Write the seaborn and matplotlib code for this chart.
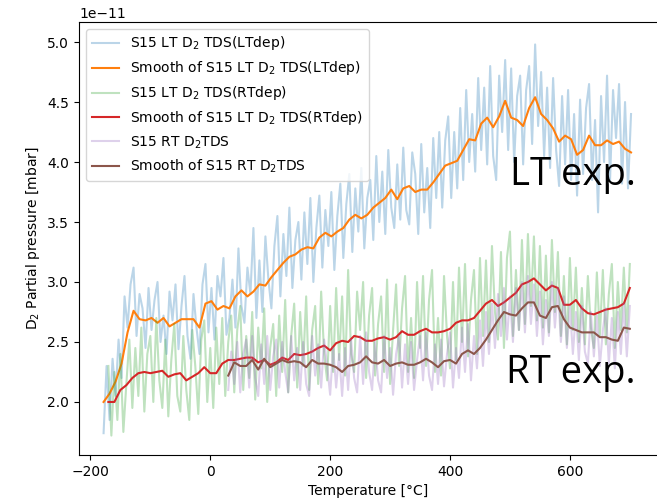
import numpy as np
import matplotlib
matplotlib.use("Agg")
import matplotlib.pyplot as plt
import seaborn as sns

SCALE = 1e-11

# ---------------- LT deposition (LTdep) : raw every 5 °C from -178 ----------------
lt_raw = [
    1.74, 2.30, 1.85, 2.36, 2.05, 2.52, 2.20, 2.88, 2.62, 2.98,
    3.12, 2.55, 2.90, 2.78, 2.45, 2.95, 2.60, 2.85, 3.00, 2.50,
    2.72, 2.40, 2.92, 2.68, 2.98, 2.44, 2.80, 3.05, 2.55, 2.36,
    2.90, 2.62, 2.40, 2.98, 3.15, 2.58, 2.95, 2.52, 3.05, 2.88,
    3.20, 2.56, 2.70, 3.02, 2.62, 3.28, 2.80, 2.66, 3.12, 2.90,
    3.45, 2.70, 3.18, 2.75, 3.38, 3.02, 2.78, 3.30, 3.55, 2.88,
    3.40, 3.05, 3.62, 2.95, 3.35, 3.50, 3.02, 3.58, 3.15, 3.70,
    3.00, 3.45, 3.72, 3.12, 3.60, 3.30, 3.75, 3.10, 3.55, 3.82,
    3.20, 3.65, 3.90, 3.25, 3.78, 3.42, 3.95, 3.28, 3.70, 3.85,
    3.35, 4.05, 3.50, 3.92, 3.40, 4.10, 3.62, 3.45, 3.98, 3.52,
    4.12, 3.60, 3.48, 4.08, 3.90, 3.40, 4.15, 3.58, 3.95, 3.45,
    4.20, 3.70, 4.25, 3.62, 4.18, 4.38, 3.70, 4.25, 3.78, 4.45,
    3.85, 4.60, 4.00, 4.40, 3.92, 4.70, 4.10, 4.62, 3.98, 4.80,
    4.05, 3.85, 4.72, 4.25, 4.85, 4.10, 4.78, 4.00, 4.55, 4.72,
    3.98, 4.60, 4.80, 4.15, 4.98, 4.30, 4.75, 4.05, 4.62, 3.95,
    4.70, 4.10, 3.80, 4.55, 3.98, 4.60, 3.85, 4.40, 3.72, 4.52,
    3.90, 4.45, 4.65, 3.85, 4.35, 3.58, 4.55, 4.00, 4.72, 3.85,
    4.60, 4.20, 4.65, 3.82, 4.50, 3.78, 4.40,
]
x_lt_raw = np.arange(-178, -178 + 5 * len(lt_raw), 5)

lt_smooth = [
    2.00, 2.07, 2.17, 2.32, 2.58, 2.76, 2.69, 2.68, 2.70, 2.66,
    2.70, 2.63, 2.66, 2.69, 2.69, 2.69, 2.62, 2.82, 2.84, 2.77,
    2.80, 2.78, 2.88, 2.93, 2.88, 2.92, 2.98, 2.97, 3.04, 3.10,
    3.16, 3.21, 3.23, 3.27, 3.29, 3.28, 3.37, 3.41, 3.38, 3.42,
    3.45, 3.52, 3.56, 3.53, 3.56, 3.62, 3.66, 3.70, 3.77, 3.69,
    3.78, 3.80, 3.75, 3.77, 3.77, 3.83, 3.90, 3.97, 3.99, 4.01,
    4.10, 4.19, 4.18, 4.32, 4.37, 4.29, 4.38, 4.51, 4.37, 4.35,
    4.30, 4.45, 4.54, 4.40, 4.35, 4.28, 4.17, 4.22, 4.19, 4.06,
    4.10, 4.22, 4.14, 4.14, 4.18, 4.15, 4.17, 4.11, 4.08,
]
x_lt_smooth = np.arange(-178, -178 + 10 * len(lt_smooth), 10)

# ---------------- LT measurement (RTdep) : raw every 5 °C from -170 ----------------
rtdep_raw = [
    2.30, 1.72, 2.25, 1.85, 2.40, 1.75, 2.15, 2.52, 1.95, 2.45,
    2.05, 2.62, 1.92, 2.40, 2.55, 2.00, 2.70, 2.18, 1.95, 2.52,
    1.88, 2.35, 2.65, 2.05, 1.92, 2.55, 2.10, 1.85, 2.60, 2.30,
    1.90, 2.52, 2.68, 2.00, 2.45, 1.95, 2.62, 2.15, 2.70, 2.05,
    2.50, 2.72, 2.08, 2.60, 2.80, 2.10, 2.55, 2.20, 2.75, 2.02,
    2.62, 2.28, 2.78, 2.00, 2.45, 2.65, 2.05, 2.72, 2.25, 2.85,
    2.08, 2.55, 2.82, 2.12, 2.75, 2.30, 2.88, 2.10, 2.60, 2.80,
    2.15, 2.92, 2.40, 2.18, 2.80, 2.25, 2.95, 2.35, 2.88, 2.22,
    3.10, 2.40, 2.25, 2.92, 2.60, 3.00, 2.20, 2.72, 2.95, 2.22,
    2.65, 2.88, 2.25, 3.02, 2.15, 2.60, 2.98, 2.30, 2.78, 3.05,
    2.25, 2.70, 2.20, 3.00, 2.45, 3.05, 2.30, 2.85, 3.10, 2.25,
    2.70, 2.22, 3.05, 2.55, 2.28, 3.00, 2.35, 3.12, 2.50, 3.15,
    2.38, 2.85, 3.10, 2.40, 3.20, 2.55, 3.18, 2.50, 3.30, 2.75,
    2.52, 3.25, 2.45, 3.20, 3.42, 2.55, 3.10, 2.60, 3.35, 2.65,
    3.40, 2.80, 3.38, 2.68, 3.30, 2.62, 3.22, 2.58, 3.35, 2.75,
    3.25, 2.55, 3.05, 2.48, 3.20, 2.60, 3.12, 2.50, 2.95, 2.48,
    3.05, 2.62, 2.45, 3.08, 2.55, 3.10, 2.48, 2.90, 3.15, 2.45,
    3.00, 2.60, 3.12, 2.58, 3.15,
]
x_rtdep_raw = np.arange(-170, -170 + 5 * len(rtdep_raw), 5)

rtdep_smooth = [
    2.00, 2.00, 2.10, 2.14, 2.20, 2.24, 2.25, 2.24, 2.25, 2.26,
    2.21, 2.23, 2.24, 2.18, 2.21, 2.24, 2.29, 2.24, 2.24, 2.32,
    2.35, 2.35, 2.36, 2.37, 2.37, 2.33, 2.35, 2.31, 2.33, 2.37,
    2.35, 2.40, 2.39, 2.40, 2.42, 2.45, 2.47, 2.43, 2.49, 2.51,
    2.50, 2.55, 2.54, 2.51, 2.51, 2.53, 2.54, 2.52, 2.54, 2.59,
    2.56, 2.56, 2.59, 2.61, 2.58, 2.58, 2.59, 2.61, 2.66, 2.68,
    2.68, 2.70, 2.76, 2.82, 2.85, 2.80, 2.83, 2.87, 2.91, 2.98,
    3.00, 3.03, 2.98, 2.93, 2.97, 2.95, 2.81, 2.81, 2.85, 2.78,
    2.74, 2.73, 2.75, 2.77, 2.78, 2.79, 2.82, 2.95,
]
x_rtdep_smooth = np.arange(-170, -170 + 10 * len(rtdep_smooth), 10)

# ---------------- RT experiment : raw every 5 °C from 30 ----------------
rt_raw = [
    2.10, 2.42, 2.15, 2.50, 2.08, 2.40, 2.52, 2.12, 2.55, 2.20,
    2.05, 2.48, 2.15, 2.55, 2.10, 2.38, 2.52, 2.12, 2.50, 2.25,
    2.08, 2.55, 2.18, 2.45, 2.10, 2.50, 2.15, 2.05, 2.55, 2.22,
    2.48, 2.12, 2.52, 2.30, 2.06, 2.45, 2.12, 2.40, 2.05, 2.45,
    2.10, 2.52, 2.20, 2.08, 2.55, 2.15, 2.58, 2.25, 2.10, 2.50,
    2.18, 2.08, 2.55, 2.20, 2.45, 2.06, 2.40, 2.55, 2.12, 2.48,
    2.15, 2.50, 2.10, 2.35, 2.55, 2.18, 2.58, 2.22, 2.10, 2.48,
    2.15, 2.52, 2.13, 2.40, 2.58, 2.12, 2.45, 2.20, 2.62, 2.25,
    2.65, 2.18, 2.55, 2.28, 2.68, 2.30, 2.75, 2.40, 2.82, 2.45,
    2.90, 2.55, 2.95, 2.52, 2.88, 2.50, 2.95, 2.60, 3.00, 2.58,
    3.05, 2.65, 2.98, 2.55, 2.92, 2.48, 2.85, 2.55, 3.00, 2.62,
    2.95, 2.50, 2.88, 2.45, 2.80, 2.40, 2.75, 2.35, 2.80, 2.42,
    2.32, 2.75, 2.38, 2.72, 2.30, 2.60, 2.78, 2.32, 2.70, 2.28,
    2.75, 2.40, 2.82, 2.38, 2.80,
]
x_rt_raw = np.arange(30, 30 + 5 * len(rt_raw), 5)

rt_smooth = [
    2.22, 2.33, 2.30, 2.30, 2.35, 2.27, 2.36, 2.29, 2.32, 2.35,
    2.33, 2.34, 2.33, 2.29, 2.35, 2.32, 2.32, 2.31, 2.29, 2.25,
    2.30, 2.31, 2.33, 2.38, 2.33, 2.32, 2.35, 2.30, 2.32, 2.33,
    2.31, 2.31, 2.33, 2.36, 2.33, 2.29, 2.34, 2.35, 2.32, 2.40,
    2.43, 2.40, 2.45, 2.52, 2.60, 2.68, 2.75, 2.73, 2.72, 2.78,
    2.83, 2.83, 2.72, 2.70, 2.79, 2.80, 2.69, 2.62, 2.60, 2.58,
    2.58, 2.58, 2.54, 2.54, 2.52, 2.51, 2.62, 2.61,
]
x_rt_smooth = np.arange(30, 30 + 10 * len(rt_smooth), 10)

labels = [
    r"S15 LT D$_2$ TDS(LTdep)",
    r"Smooth of S15 LT D$_2$ TDS(LTdep)",
    r"S15 LT D$_2$ TDS(RTdep)",
    r"Smooth of S15 LT D$_2$ TDS(RTdep)",
    r"S15 RT D$_2$TDS",
    r"Smooth of S15 RT D$_2$TDS",
]

pal = sns.color_palette("tab10")

fig = plt.figure(figsize=(6.57, 5.03), dpi=100)
ax = fig.add_axes([79 / 657, 48 / 503, 579 / 657, 433 / 503])

series = [
    (x_lt_raw, lt_raw, 0, 0.3),
    (x_lt_smooth, lt_smooth, 1, 1.0),
    (x_rtdep_raw, rtdep_raw, 2, 0.3),
    (x_rtdep_smooth, rtdep_smooth, 3, 1.0),
    (x_rt_raw, rt_raw, 4, 0.3),
    (x_rt_smooth, rt_smooth, 5, 1.0),
]
for (xs, ys, ci, a), lab in zip(series, labels):
    sns.lineplot(x=np.asarray(xs), y=np.asarray(ys) * SCALE, ax=ax,
                 color=pal[ci], alpha=a, label=lab, linewidth=1.5,
                 estimator=None, sort=False)

ax.set_xlim(-219, 747)
ax.set_ylim(1.558e-11, 5.167e-11)
ax.set_xticks([-200, 0, 200, 400, 600])
ax.set_yticks(np.arange(2.0, 5.01, 0.5) * SCALE)
ax.set_xlabel("Temperature [°C]")
ax.set_ylabel(r"D$_2$ Partial pressure [mbar]")
ax.legend(loc="upper left")

fig.text(510 / 657, 1 - 185 / 503, "LT exp.", fontsize=27.5,
         family="Open Sans", ha="left", va="baseline", color="black")
fig.text(506 / 657, 1 - 383 / 503, "RT exp.", fontsize=27.5,
         family="Open Sans", ha="left", va="baseline", color="black")

fig.savefig("out.png", dpi=100)
